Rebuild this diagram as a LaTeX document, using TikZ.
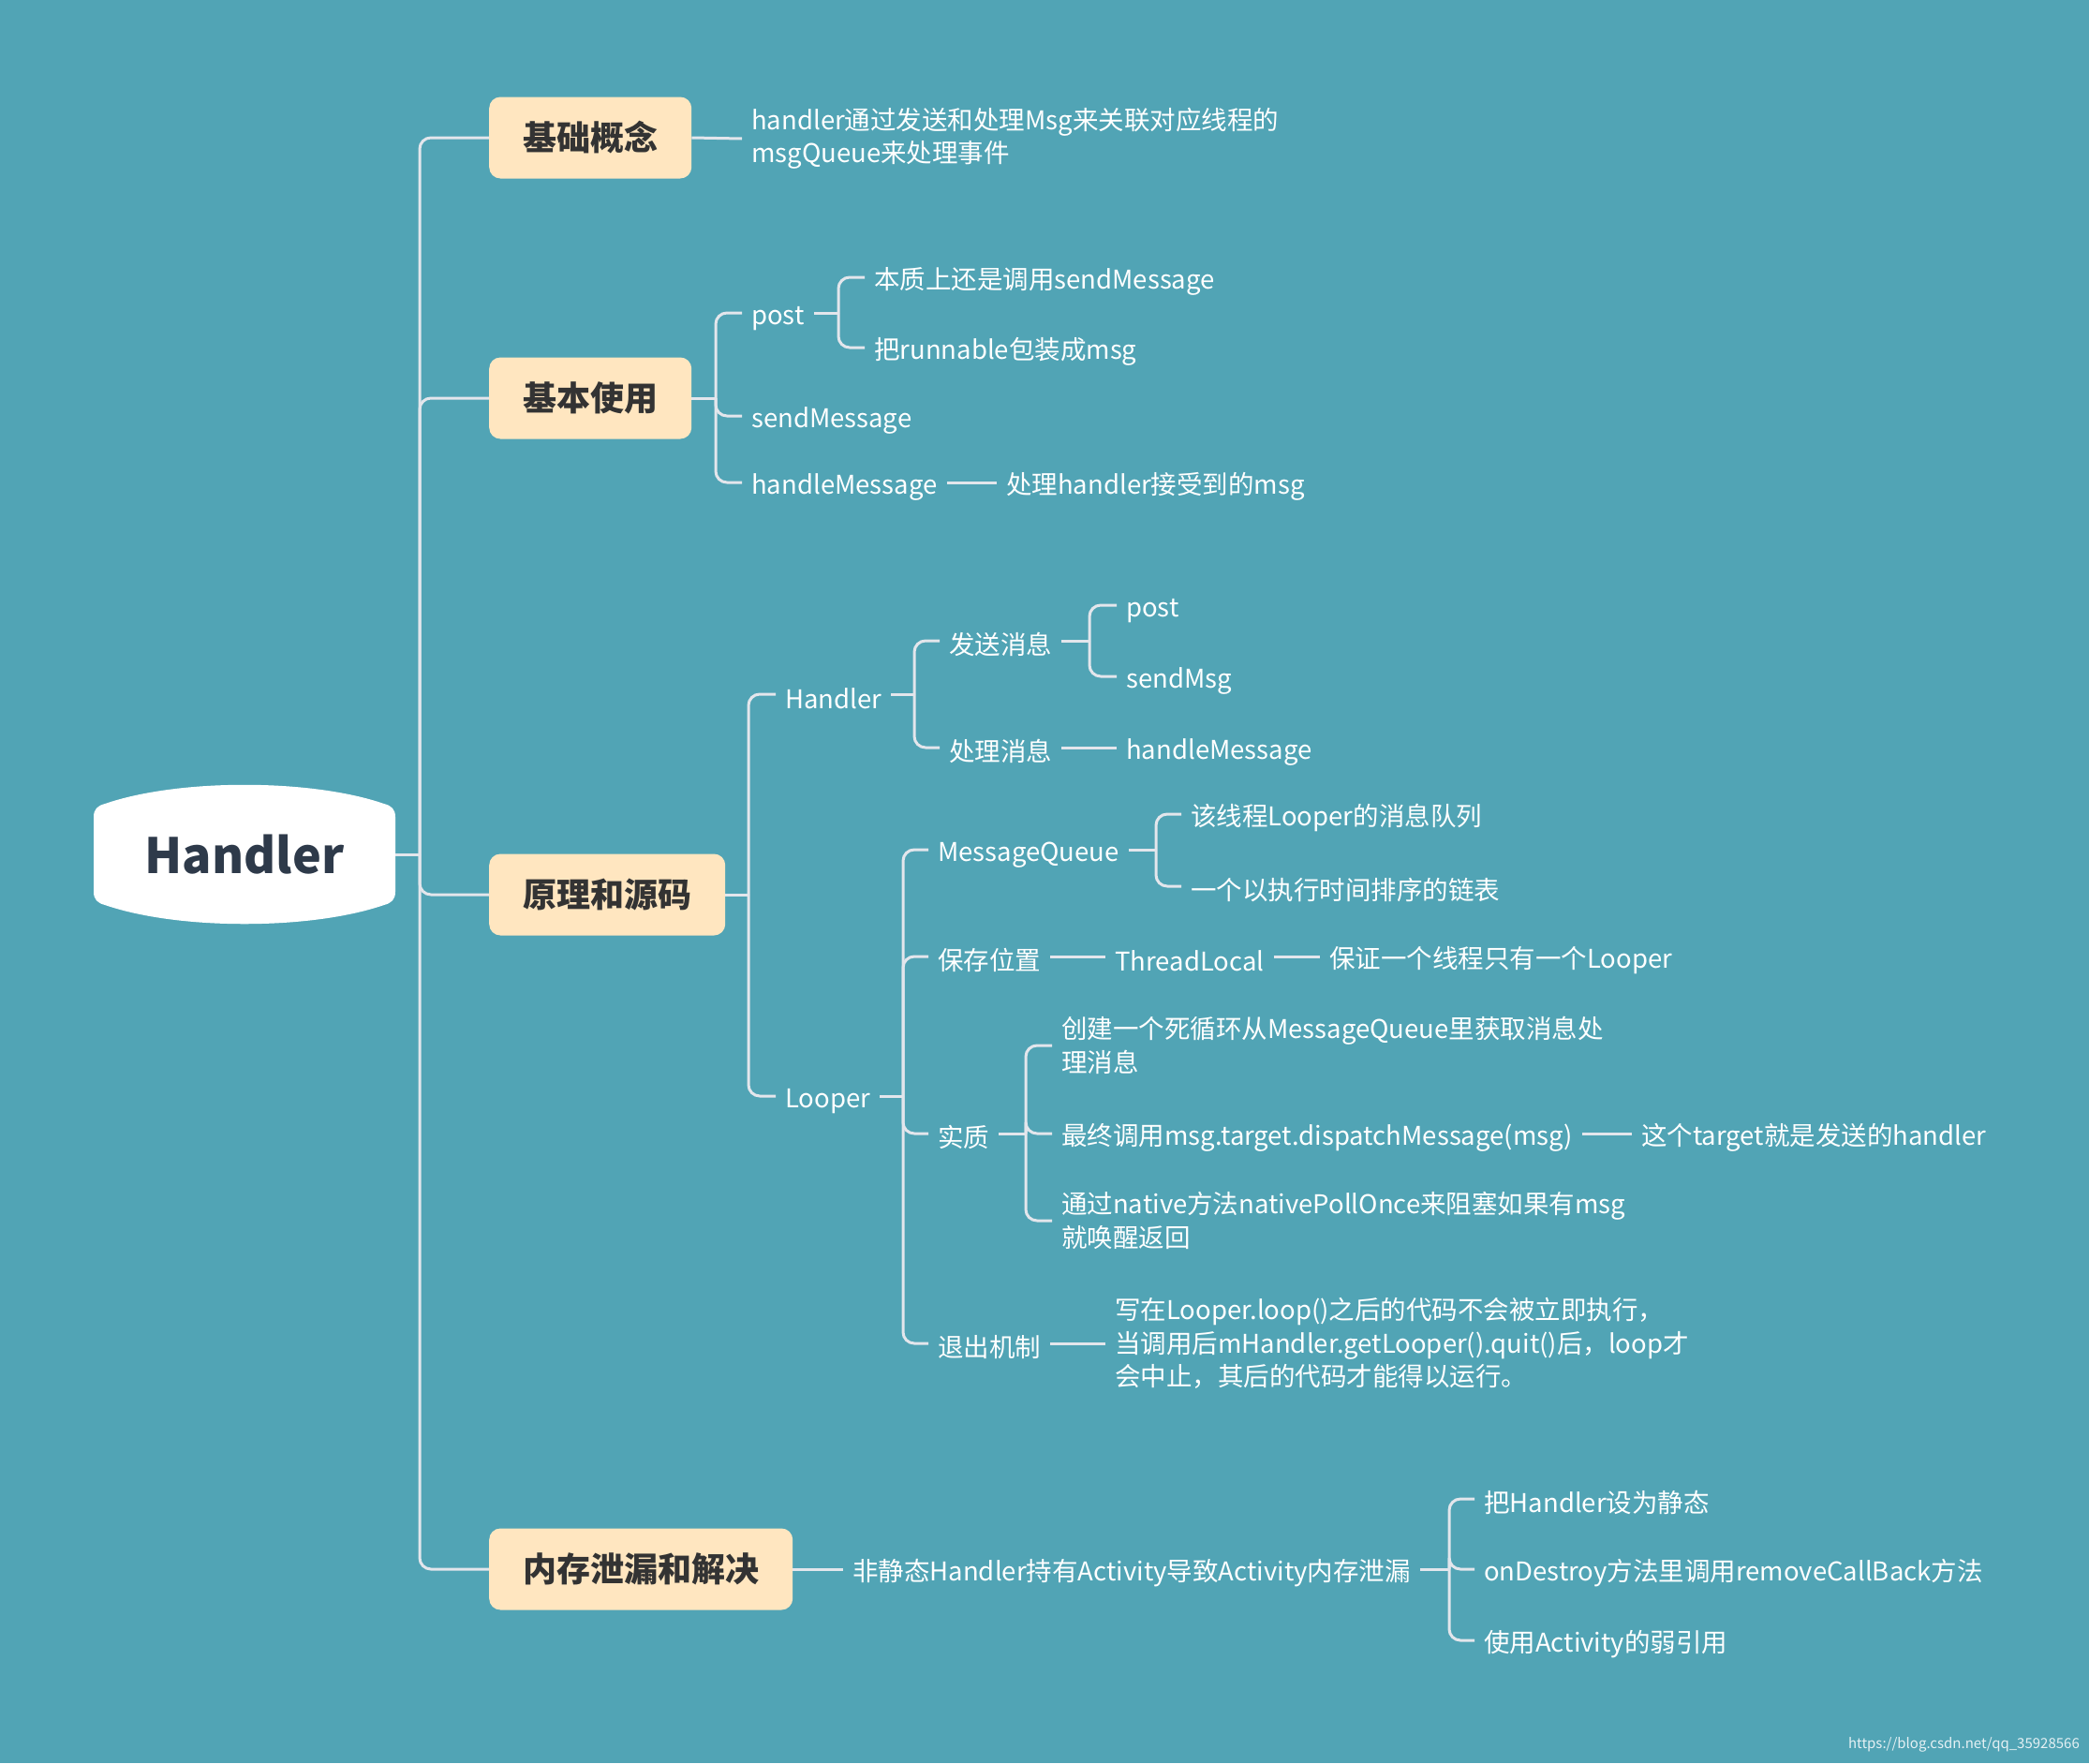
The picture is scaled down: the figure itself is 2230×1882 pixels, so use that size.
\documentclass[tikz,border=0pt]{standalone}
\usepackage{fontspec}
\setmainfont{Noto Sans CJK SC}
\definecolor{bgc}{HTML}{51A4B5}
\definecolor{boxc}{HTML}{FFE6C0}
\definecolor{boxtext}{HTML}{333333}
\definecolor{roottext}{HTML}{2E3A4A}
\definecolor{linec}{HTML}{E3E6EC}
\newcommand{\leafstrut}{\rule{0pt}{31bp}}
\tikzset{
  conn/.style={draw=linec, line width=3bp, rounded corners=12bp},
  leaf/.style={anchor=west, text=white, inner xsep=10bp, inner ysep=2bp, align=left,
    font={\fontsize{27.5bp}{35.5bp}\selectfont}, execute at begin node=\leafstrut},
  topic/.style={anchor=west, fill=boxc, rounded corners=12bp, inner xsep=36bp, inner ysep=0bp,
    minimum height=87bp, text=boxtext, font={\fontsize{36bp}{40bp}\selectfont\bfseries}},
}
\begin{document}
\begin{tikzpicture}[x=1bp,y=-1bp]
\fill[bgc] (0,0) rectangle (2230,1882);
\useasboundingbox (0,0) rectangle (2230,1882);

% root shape
\fill[white] (112,858) .. controls (190,831) and (332,831) .. (410,858)
  .. controls (418,860) and (422,864) .. (422,872) -- (422,952)
  .. controls (422,960) and (418,964) .. (410,966)
  .. controls (332,993) and (190,993) .. (112,966)
  .. controls (104,964) and (100,960) .. (100,952) -- (100,872)
  .. controls (100,864) and (104,860) .. (112,858) -- cycle;
\node[minimum width=322bp, minimum height=148bp, inner sep=0pt, text=roottext,
  font={\fontsize{52bp}{60bp}\selectfont\bfseries}] (root) at (261,912) {Handler};

% main topics
\node[topic] (b1) at (522,147) {基础概念};
\node[topic] (b2) at (522,425) {基本使用};
\node[topic] (b3) at (522,955) {原理和源码};
\node[topic] (b4) at (522,1675) {内存泄漏和解决};

\coordinate (tr) at (448,912);
\draw[conn] (root.east) -- (tr);
\foreach \b in {b1,b2,b3,b4} \draw[conn] (tr) |- (\b.west);

% 基础概念
\node[leaf] (t1) at (792,148) {handler通过发送和处理Msg来关联对应线程的\\msgQueue来处理事件};
\draw[conn] (b1.east) -- (t1.west);

% 基本使用
\node[leaf] (u1) at (792,334) {post};
\node[leaf] (u2) at (792,444) {sendMessage};
\node[leaf] (u3) at (792,515) {handleMessage};
\coordinate (bu) at (764,425);
\draw[conn] (b2.east) -- (bu);
\foreach \c in {u1,u2,u3} \draw[conn] (bu) |- (\c.west);

\node[leaf] (u11) at (923,296) {本质上还是调用sendMessage};
\node[leaf] (u12) at (923,371) {把runnable包装成msg};
\coordinate (bu1) at (895,334);
\draw[conn] (u1.east) -- (bu1);
\foreach \c in {u11,u12} \draw[conn] (bu1) |- (\c.west);

\node[leaf] (u31) at (1064,515) {处理handler接受到的msg};
\draw[conn] (u3.east) -- (u31.west);

% 原理和源码
\node[leaf] (h) at (828,741) {Handler};
\node[leaf] (l) at (828,1170) {Looper};
\coordinate (bb3) at (799,955);
\draw[conn] (b3.east) -- (bb3);
\foreach \c in {h,l} \draw[conn] (bb3) |- (\c.west);

\node[leaf] (h1) at (1003,684) {发送消息};
\node[leaf] (h2) at (1003,798) {处理消息};
\coordinate (bh) at (976,741);
\draw[conn] (h.east) -- (bh);
\foreach \c in {h1,h2} \draw[conn] (bh) |- (\c.west);

\node[leaf] (h11) at (1192,646) {post};
\node[leaf] (h12) at (1192,722) {sendMsg};
\coordinate (bh1) at (1163,684);
\draw[conn] (h1.east) -- (bh1);
\foreach \c in {h11,h12} \draw[conn] (bh1) |- (\c.west);

\node[leaf] (h21) at (1192,798) {handleMessage};
\draw[conn] (h2.east) -- (h21.west);

\node[leaf] (l1) at (991,907) {MessageQueue};
\node[leaf] (l2) at (991,1021) {保存位置};
\node[leaf] (l3) at (991,1210) {实质};
\node[leaf] (l4) at (991,1434) {退出机制};
\coordinate (bl) at (964,1170);
\draw[conn] (l.east) -- (bl);
\foreach \c in {l1,l2,l3,l4} \draw[conn] (bl) |- (\c.west);

\node[leaf] (l11) at (1261,869) {该线程Looper的消息队列};
\node[leaf] (l12) at (1261,946) {一个以执行时间排序的链表};
\coordinate (bl1) at (1234,907);
\draw[conn] (l1.east) -- (bl1);
\foreach \c in {l11,l12} \draw[conn] (bl1) |- (\c.west);

\node[leaf] (l21) at (1180,1021) {ThreadLocal};
\node[leaf] (l211) at (1409,1021) {保证一个线程只有一个Looper};
\draw[conn] (l2.east) -- (l21.west);
\draw[conn] (l21.east) -- (l211.west);

\node[leaf] (l31) at (1123,1116) {创建一个死循环从MessageQueue里获取消息处\\理消息};
\node[leaf] (l32) at (1123,1210) {最终调用msg.target.dispatchMessage(msg)};
\node[leaf] (l33) at (1123,1303) {通过native方法nativePollOnce来阻塞如果有msg\\就唤醒返回};
\coordinate (bl3) at (1095,1210);
\draw[conn] (l3.east) -- (bl3);
\foreach \c in {l31,l32,l33} \draw[conn] (bl3) |- (\c.west);

\node[leaf] (l321) at (1742,1210) {这个target就是发送的handler};
\draw[conn] (l32.east) -- (l321.west);

\node[leaf] (l41) at (1180,1434) {写在Looper.loop()之后的代码不会被立即执行，\\当调用后mHandler.getLooper().quit()后，loop才\\会中止，其后的代码才能得以运行。};
\draw[conn] (l4.east) -- (l41.west);

% 内存泄漏和解决
\node[leaf] (m1) at (900,1675) {非静态Handler持有Activity导致Activity内存泄漏};
\draw[conn] (b4.east) -- (m1.west);
\node[leaf] (m11) at (1574,1600) {把Handler设为静态};
\node[leaf] (m12) at (1574,1675) {onDestroy方法里调用removeCallBack方法};
\node[leaf] (m13) at (1574,1751) {使用Activity的弱引用};
\coordinate (bm) at (1547,1675);
\draw[conn] (m1.east) -- (bm);
\foreach \c in {m11,m12,m13} \draw[conn] (bm) |- (\c.west);

% watermark
\node[anchor=east, text=white!85!bgc, inner sep=0pt, font={\fontsize{15bp}{18bp}\selectfont}] (wm) at (2220,1862) {https://blog.csdn.net/qq\_35928566};
\end{tikzpicture}
\end{document}
